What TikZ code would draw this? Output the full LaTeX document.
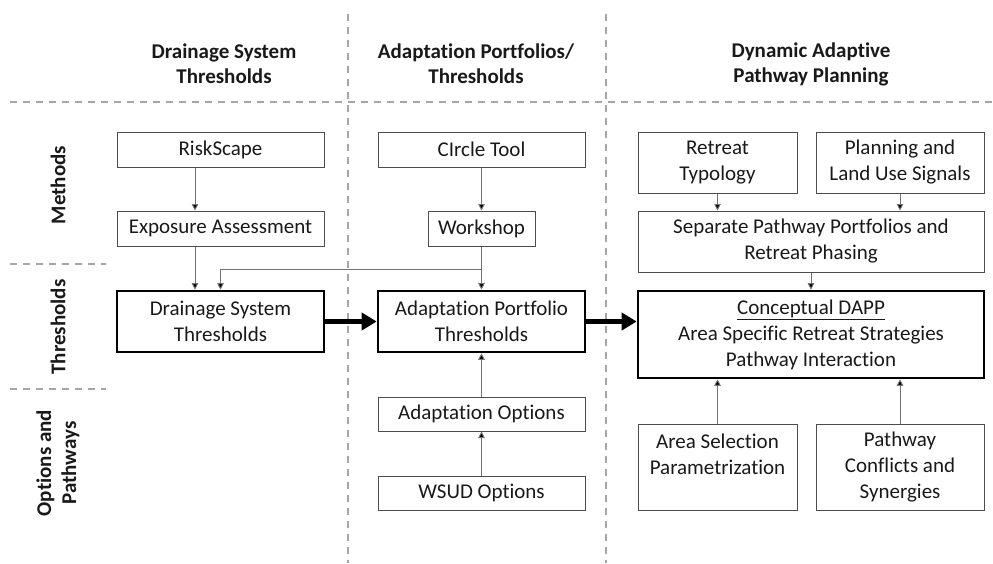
\documentclass[tikz,border=0pt]{standalone}
\usepackage{fontspec}
\setmainfont[Ligatures=NoCommon]{Carlito}
\usetikzlibrary{arrows.meta}
\begin{document}
\begin{tikzpicture}[x=1pt,y=-1pt,
  box/.style={draw=black!70, line width=1pt, inner sep=0pt, align=center, text=black!90,
    font=\fontsize{21}{26}\selectfont},
  tbox/.style={box, draw=black, line width=2.6pt},
  hdr/.style={align=center, font=\fontsize{21}{25}\selectfont\bfseries, text=black!90},
  rowlbl/.style={align=center, rotate=90, font=\fontsize{21}{25}\selectfont\bfseries, text=black!90},
  sep/.style={draw=black!35, line width=1.4pt, dash pattern=on 7pt off 6pt},
  arr/.style={draw=black!55, line width=0.9pt, -{Triangle[width=6.5pt,length=6.5pt,fill=black]}},
  bigarr/.style={draw=black, line width=5pt, -{Triangle[width=17pt,length=15pt]}}]
\useasboundingbox (0,0) rectangle (993,563);
% separators
\draw[sep] (348,14) -- (348,563);
\draw[sep] (606,14) -- (606,563);
\draw[sep] (10,102) -- (993,102);
\draw[sep] (10,264) -- (106,264);
\draw[sep] (10,389) -- (106,389);
% headers
\node[hdr] (h1) at (224,64) {Drainage System\\Thresholds};
\node[hdr] (h2) at (476,64) {Adaptation Portfolios/\\Thresholds};
\node[hdr] (h3) at (811,64) {Dynamic Adaptive\\Pathway Planning};
% row labels
\node[rowlbl] (r1) at (58,185) {Methods};
\node[rowlbl] (r2) at (58,327) {Thresholds};
\node[rowlbl] (r3) at (58,463) {Options and\\Pathways};
% column 1
\node[box, minimum width=207pt, minimum height=35pt] (risk) at (220.5,149.5) {RiskScape};
\node[box, minimum width=207pt, minimum height=35pt] (expo) at (220.5,228.5) {Exposure Assessment};
\node[tbox, minimum width=207pt, minimum height=61pt] (drain) at (220.5,321.5) {Drainage System\\Thresholds};
% column 2
\node[box, minimum width=207pt, minimum height=35pt] (circ) at (481.5,149.5) {CIrcle Tool};
\node[box, minimum width=107pt, minimum height=35pt] (work) at (481.5,228.5) {Workshop};
\node[tbox, minimum width=207pt, minimum height=61pt] (apt) at (481.5,321.5) {Adaptation Portfolio\\Thresholds};
\node[box, minimum width=207pt, minimum height=34pt] (aopt) at (481.5,414) {Adaptation Options};
\node[box, minimum width=207pt, minimum height=34pt] (wsud) at (481.5,493) {WSUD Options};
% column 3
\node[box, minimum width=159pt, minimum height=61pt] (retr) at (717.5,162.5) {Retreat\\Typology};
\node[box, minimum width=168pt, minimum height=61pt] (plan) at (900,162.5) {Planning and\\Land Use Signals};
\node[box, minimum width=346pt, minimum height=61pt] (sepp) at (811,241.5) {Separate Pathway Portfolios and\\Retreat Phasing};
\node[tbox, minimum width=346pt, minimum height=87pt] (dapp) at (811,334.5) {\underline{Conceptual DAPP}\\Area Specific Retreat Strategies\\Pathway Interaction};
\node[box, minimum width=159pt, minimum height=86pt] (area) at (717.5,467) {Area Selection\\Parametrization\\\mbox{}};
\node[box, minimum width=168pt, minimum height=86pt] (conf) at (900,467) {Pathway\\Conflicts and\\Synergies};
% connectors
\draw[arr] ([xshift=-25.5pt]risk.south) -- ([xshift=-25.5pt]expo.north);
\draw[arr] ([xshift=-25.5pt]expo.south) -- ([xshift=-25.5pt]drain.north);
\draw[arr] (circ.south) -- (work.north);
\draw[arr] (work.south) -- (apt.north);
\coordinate (j) at (481.5,269);
\draw[arr] (j) -| (drain.north);
\draw[arr] (wsud.north) -- (aopt.south);
\draw[arr] (aopt.north) -- (apt.south);
\draw[arr] (retr.south) -- (retr.south |- sepp.north);
\draw[arr] (plan.south) -- (plan.south |- sepp.north);
\draw[arr] (sepp.south) -- (dapp.north);
\draw[arr] (area.north) -- (area.north |- dapp.south);
\draw[arr] (conf.north) -- (conf.north |- dapp.south);
\draw[bigarr] (drain.east) -- (apt.west);
\draw[bigarr] (apt.east) -- (dapp.west |- apt.east);
\end{tikzpicture}
\end{document}
